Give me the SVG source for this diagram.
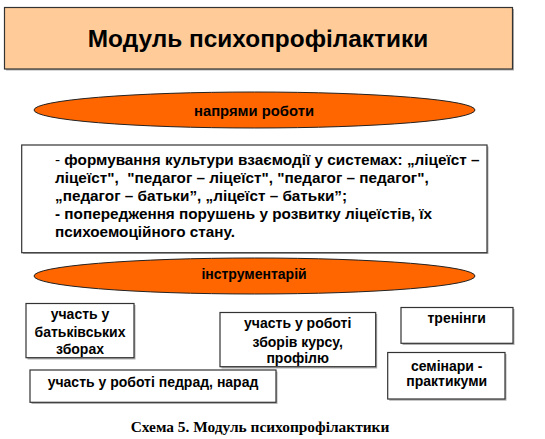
<svg xmlns="http://www.w3.org/2000/svg" width="545" height="439" viewBox="0 0 545 439">
<style>
.box{fill:#fff;stroke:#333;stroke-width:1.2}
.sh{fill:#b0b0b0}
.t{font-family:"Liberation Sans",Arial,sans-serif;font-weight:bold;font-size:14px;fill:#000}
.m{font-size:15.3px}
.c{text-anchor:middle}
.ell{fill:#FF6600;stroke:#222;stroke-width:1}
</style>
<rect width="545" height="439" fill="#fff"/>
<g id="title">
<rect class="sh" x="6" y="9" width="508" height="61.5"/>
<rect x="4.5" y="7.5" width="508" height="61.5" fill="#FFCC99" stroke="#333" stroke-width="1.2"/>
<text class="t c" x="258" y="47" style="font-size:24.4px">Модуль психопрофілактики</text>
</g>
<g id="ellipse1">
<ellipse class="ell" cx="254.5" cy="110" rx="220.5" ry="18"/>
<text class="t c" x="254" y="116" style="font-size:14.8px">напрями роботи</text>
</g>
<g id="directions">
<rect class="sh" x="23" y="146.5" width="465.5" height="107.5"/>
<rect class="box" x="21.7" y="145" width="465.3" height="107.7"/>
<text class="t m" x="55" y="165"><tspan style="font-weight:normal">- </tspan>формування культури взаємодії у системах: „ліцеїст –</text>
<text class="t m" x="55" y="183.3">ліцеїст", &#160;"педагог – ліцеїст", "педагог – педагог",</text>
<text class="t m" x="55" y="201">„педагог – батьки”, „ліцеїст – батьки”;</text>
<text class="t m" x="55" y="219">- попередження порушень у розвитку ліцеїстів, їх</text>
<text class="t m" x="55" y="237.3">психоемоційного стану.</text>
</g>
<g id="ellipse2">
<ellipse class="ell" cx="254.5" cy="276" rx="220.5" ry="18"/>
<text class="t c" x="254" y="278.5" style="font-size:14px">інструментарій</text>
</g>
<g id="boxA">
<rect class="sh" x="27.5" y="305" width="108" height="54.5"/>
<rect class="box" x="26" y="303.5" width="108" height="54.2"/>
<text class="t c" x="80" y="319.3">участь у</text>
<text class="t c" x="80" y="336.7">батьківських</text>
<text class="t c" x="80" y="354">зборах</text>
</g>
<g id="boxB">
<rect class="sh" x="31.5" y="371.5" width="246" height="32.5"/>
<rect class="box" x="30" y="370" width="246" height="32.3"/>
<text class="t c" x="153" y="386.7">участь у роботі педрад, нарад</text>
</g>
<g id="boxC">
<rect class="sh" x="221.5" y="314" width="155.7" height="54.5"/>
<rect class="box" x="220" y="312.5" width="155.7" height="54.2"/>
<text class="t c" x="297.7" y="328.3">участь у роботі</text>
<text class="t c" x="297.7" y="346.7">зборів курсу,</text>
<text class="t c" x="297.7" y="362.7">профілю</text>
</g>
<g id="boxD">
<rect class="sh" x="402.5" y="309" width="112" height="36"/>
<rect class="box" x="401" y="307.5" width="112" height="35.8"/>
<text class="t c" x="456.7" y="323.3">тренінги</text>
</g>
<g id="boxE">
<rect class="sh" x="389.2" y="354" width="117.3" height="46.7"/>
<rect class="box" x="387.7" y="352.5" width="117.3" height="46.5"/>
<text class="t c" x="446.7" y="371">семінари -</text>
<text class="t c" x="446.7" y="386">практикуми</text>
</g>
<g id="connectors"/>
<text x="260" y="431.5" text-anchor="middle" style="font-family:'Liberation Serif','Times New Roman',serif;font-weight:bold;font-size:15.4px">Схема 5. Модуль психопрофілактики</text>
</svg>
